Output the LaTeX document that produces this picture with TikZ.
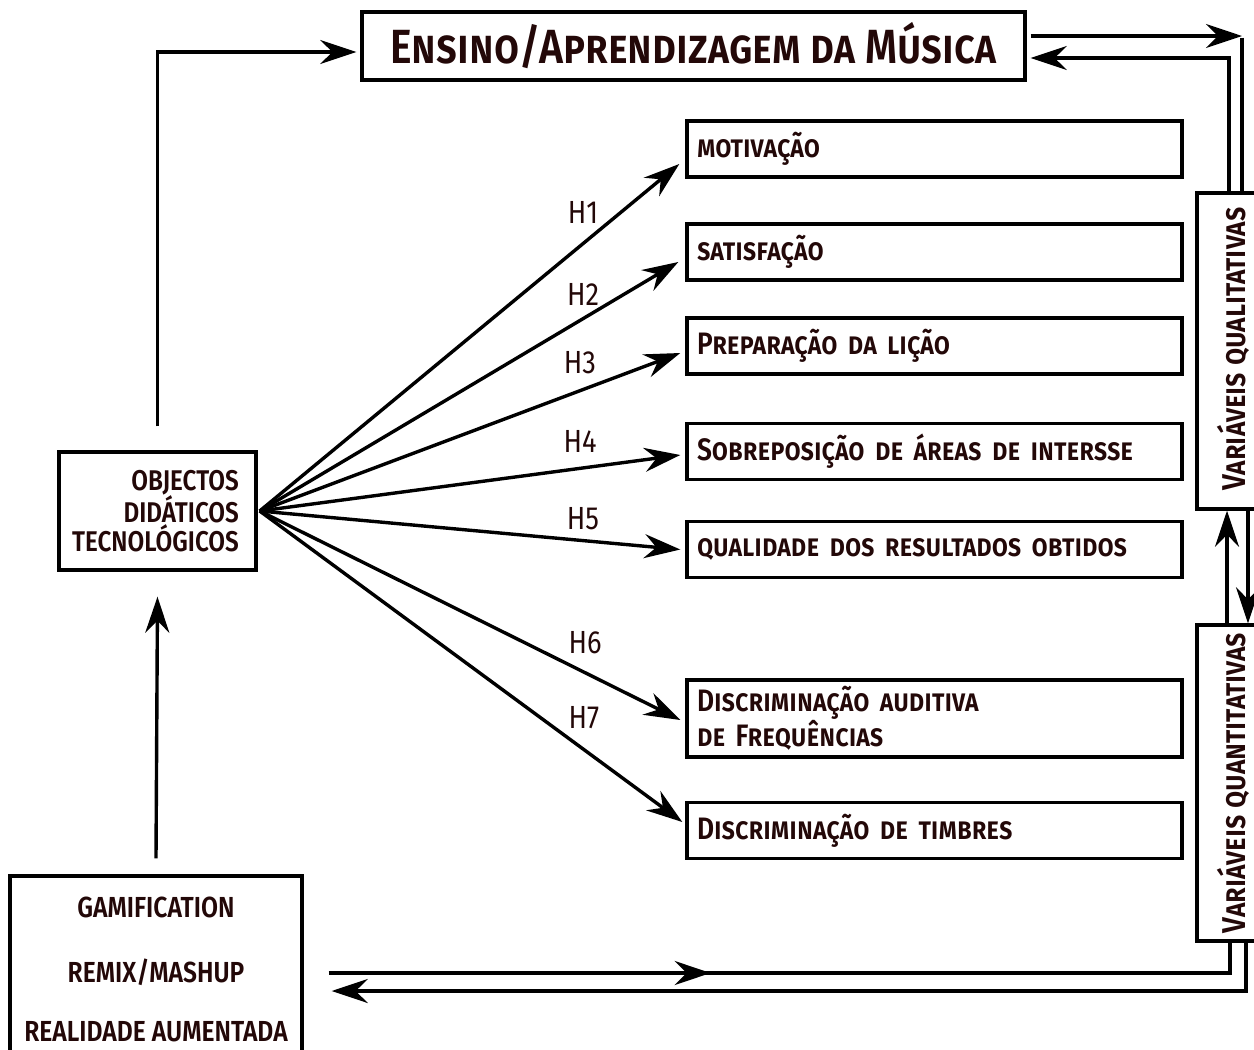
\documentclass[tikz,border=0pt]{standalone}
\usepackage{fontspec}
\setmainfont{Fira Sans}[UprightFont=* SemiBold, FakeStretch=0.85]
\newfontfamily\hfont{Fira Sans}[FakeStretch=0.85]
\usetikzlibrary{arrows.meta,decorations.markings}
\definecolor{ink}{RGB}{35,8,8}
\tikzset{
  lw/.style={line width=3.4pt},
  box/.style={draw, lw, rectangle, inner sep=0pt, text=ink},
  itembox/.style={box, minimum height=56pt, text width=475pt, inner xsep=10pt, align=left, font=\fontsize{31}{27}\selectfont\scshape},
  arr/.style={lw, -{Stealth[length=36pt,width=24pt,inset=12pt]}},
  plain/.style={lw},
  hlab/.style={text=ink, font=\hfont\fontsize{32}{32}\selectfont, inner sep=0pt},
  vlab/.style={text=ink, rotate=90, font=\fontsize{33}{33}\selectfont\scshape, inner sep=0pt},
  midarr/.style={postaction={decorate}, decoration={markings, mark=at position #1 with {\arrow[line width=3.4pt]{Stealth[length=36pt,width=24pt,inset=12pt]}}}}
}
\begin{document}
\begin{tikzpicture}[x=1pt,y=-1pt]
\useasboundingbox (0,0) rectangle (1254,1050);
\clip (0,0) rectangle (1254,1050);
% title
\node[box, minimum width=663pt, minimum height=68pt, font=\fontsize{48}{48}\selectfont\scshape] (title) at (693.5,46) {Ensino/Aprendizagem da Música};
% item boxes
\node[itembox] (m1) at (934.5,149) {motivação};
\node[itembox] (m2) at (934.5,252) {satisfação};
\node[itembox] (m3) at (934.5,346) {Preparação da lição};
\node[itembox] (m4) at (934.5,451.5) {Sobreposição de áreas de intersse};
\node[itembox] (m5) at (934.5,549.5) {qualidade dos resultados obtidos};
\node[itembox, minimum height=77pt] (m6) at (934.5,718.5) {Discriminação auditiva\\de Frequências};
\node[itembox] (m7) at (934.5,830.5) {Discriminação de timbres};
% objectos
\node[box, minimum width=197pt, minimum height=118pt] (obj) at (157.5,511) {};
\node[anchor=east, align=right, text=ink, inner sep=0pt, font=\fontsize{28.5}{27}\selectfont] (objt) at (239,511) {OBJECTOS\\DIDÁTICOS\\TECNOLÓGICOS};
% bottom-left box
\node[box, minimum width=292pt, minimum height=194pt] (bot) at (156,973) {};
\node[text=ink, inner sep=0pt, font=\fontsize{29}{29}\selectfont] (g1) at (156,907) {GAMIFICATION};
\node[text=ink, inner sep=0pt, font=\fontsize{29}{29}\selectfont] (g2) at (156,972) {REMIX/MASHUP};
\node[text=ink, inner sep=0pt, font=\fontsize{29}{29}\selectfont] (g3) at (156,1032) {REALIDADE AUMENTADA};
% right vertical boxes
\node[box, minimum width=70pt, minimum height=316pt] (qual) at (1232,351) {};
\node[vlab] (qualt) at (1233,349) {Variáveis qualitativas};
\node[box, minimum width=70pt, minimum height=316pt] (quant) at (1232,783) {};
\node[vlab] (quantt) at (1233,783) {Variáveis quantitativas};
% H labels
\node[hlab] (h1) at (583,212) {H1};
\node[hlab] (h2) at (583,294) {H2};
\node[hlab] (h3) at (580,363) {H3};
\node[hlab] (h4) at (580,441) {H4};
\node[hlab] (h5) at (583,519) {H5};
\node[hlab] (h6) at (585,643) {H6};
\node[hlab] (h7) at (584,718) {H7};
% fan of arrows
\coordinate (src) at ([xshift=2pt]obj.east);
\draw[arr] (src) -- ([xshift=-6pt,yshift=-15pt]m1.west);
\draw[arr] (src) -- ([xshift=-7pt,yshift=-10pt]m2.west);
\draw[arr] (src) -- ([xshift=-5pt,yshift=-7pt]m3.west);
\draw[arr] (src) -- ([xshift=-5pt,yshift=-3.5pt]m4.west);
\draw[arr] (src) -- ([xshift=-5pt]m5.west);
\draw[arr] (src) -- ([xshift=-5pt,yshift=-1.5pt]m6.west);
\draw[arr] (src) -- ([xshift=-3pt,yshift=8.5pt]m7.west);
% left vertical connectors
\draw[arr] ([yshift=24pt]obj.north) |- ([xshift=-4pt,yshift=-6pt]title.west);
\draw[arr] ([yshift=16pt]bot.north) -- ([yshift=-25pt]obj.south);
% top right
\coordinate (tr) at (1242,36);
\draw[arr] ([xshift=4pt,yshift=10pt]title.east) -- (tr);
\draw[plain] ([yshift=-1.7pt]tr) -- ([xshift=10pt]qual.north);
\draw[arr] ([xshift=-3pt]qual.north) |- ([xshift=4pt,yshift=-12pt]title.east);
% between qual and quant
\draw[arr] ([xshift=-5pt]quant.north) -- ([xshift=-5pt]qual.south);
\draw[arr] ([xshift=16pt]qual.south) -- ([xshift=16pt]quant.north);
% bottom
\draw[plain, midarr=0.41] ([xshift=25pt]bot.east) -| ([xshift=-2pt]quant.south);
\draw[arr] ([xshift=14pt]quant.south) |- ([xshift=28pt,yshift=-18pt]bot.east);
\end{tikzpicture}
\end{document}
